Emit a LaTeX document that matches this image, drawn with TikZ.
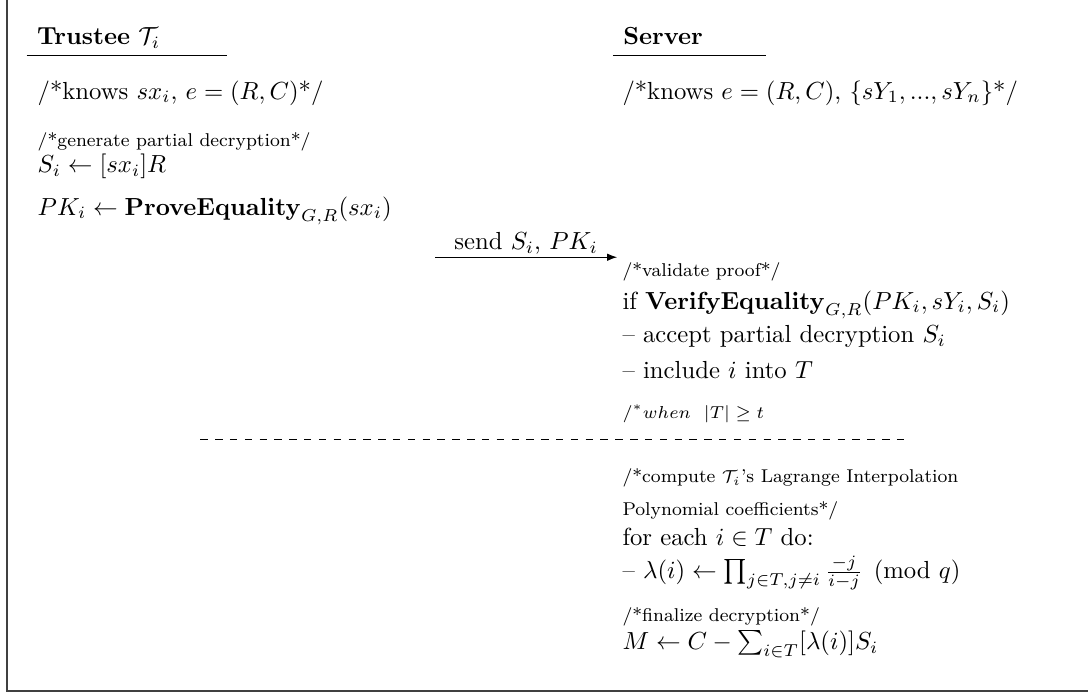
\documentclass[tikz,border=0pt]{standalone}
\usepackage{amsmath}
\usepackage{amssymb}
\usetikzlibrary{arrows.meta, positioning}

\begin{document}
\begin{tikzpicture}[
    txt/.style={anchor=base west, inner sep=0pt},
    note/.style={txt, font=\fontsize{7.5}{9}\selectfont},
    hdr/.style={anchor=base west, inner xsep=4pt, inner ysep=0pt, text depth=4pt, align=left, font=\bfseries},
    arrow/.style={-{Latex[length=4pt, width=3pt]}}
]
\useasboundingbox (0,0) rectangle (15.48,-9.88);
% frame, left and bottom edge only
\draw[line width=0.8pt, black!75] (0.10,0) -- (0.10,-9.83) -- (15.48,-9.83);

% party headers
\node[hdr, text width=72.6pt] (trustee) at (0.38,-0.64) {Trustee $\mathcal{T}_i$};
\node[hdr, text width=53.5pt] (server) at (8.72,-0.64) {Server};
\draw (trustee.south west) -- (trustee.south east);
\draw (server.south west) -- (server.south east);

% trustee side
\node[txt] (tknows) at (0.53,-1.41) {/*knows $sx_i$, $e=(R,C)$*/};
\node[note] (gen) at (0.53,-2.08) {/*generate partial decryption*/};
\node[txt] (share) at (0.53,-2.46) {$S_i \leftarrow [sx_i]R$};
\node[txt] (prove) at (0.53,-3.06) {$PK_i \leftarrow \mathbf{ProveEquality}_{G,R}(sx_i)$};

% message
\coordinate (sendfrom) at (6.19,-3.66);
\coordinate (sendto) at (8.78,-3.66);
\draw[arrow] (sendfrom) -- node[above, inner sep=1pt] (sendlbl) {send $S_i$, $PK_i$} (sendto);

% server side
\node[txt] (sknows) at (8.85,-1.41) {/*knows $e=(R,C)$, $\{sY_1,...,sY_n\}$*/};
\node[note] (valid) at (8.85,-3.93) {/*validate proof*/};
\node[txt] (verify) at (8.85,-4.40) {if $\mathbf{VerifyEquality}_{G,R}(PK_i, sY_i, S_i)$};
\node[txt] (accept) at (8.85,-4.88) {-- accept partial decryption $S_i$};
\node[txt] (incl) at (8.85,-5.39) {-- include $i$ into $T$};
\node[note] (when) at (8.85,-5.95) {$/^*when~~|T| \geq t$};

% threshold cut
\coordinate (cutL) at (2.85,-6.26);
\coordinate (cutR) at (12.88,-6.26);
\draw[dashed] (cutL) -- (cutR);

\node[note] (lagr1) at (8.85,-6.87) {/*compute $\mathcal{T}_i$'s Lagrange Interpolation};
\node[note] (lagr2) at (8.85,-7.34) {Polynomial coefficients*/};
\node[txt] (loop) at (8.85,-7.76) {for each $i \in T$ do:};
\node[txt] (coef) at (8.85,-8.23) {-- $\lambda(i) \leftarrow \prod_{j\in T, j\neq i} \frac{-j}{i-j} \pmod q$};
\node[note] (fin) at (8.85,-8.84) {/*finalize decryption*/};
\node[txt] (result) at (8.85,-9.24) {$M \leftarrow C - \sum_{i\in T}[\lambda(i)]S_i$};

\end{tikzpicture}
\end{document}
